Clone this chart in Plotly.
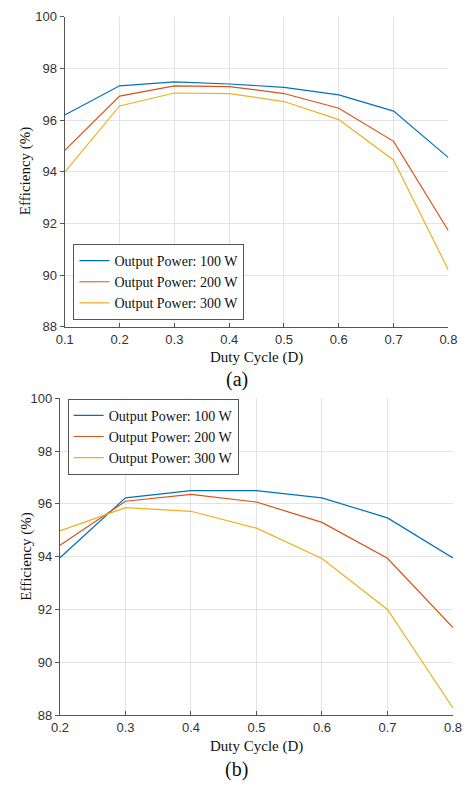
import plotly.graph_objects as go

# ---- data ----
duty_a = [0.1, 0.2, 0.3, 0.4, 0.5, 0.6, 0.7, 0.8]
eff_a_100 = [96.2, 97.33, 97.48, 97.4, 97.27, 96.98, 96.35, 94.55]
eff_a_200 = [94.83, 96.93, 97.33, 97.3, 97.03, 96.46, 95.18, 91.72]
eff_a_300 = [93.99, 96.55, 97.05, 97.03, 96.72, 96.02, 94.45, 90.2]

duty_b = [0.2, 0.3, 0.4, 0.5, 0.6, 0.7, 0.8]
eff_b_100 = [93.96, 96.23, 96.5, 96.5, 96.23, 95.47, 93.95]
eff_b_200 = [94.43, 96.1, 96.36, 96.07, 95.3, 93.94, 91.31]
eff_b_300 = [94.98, 95.86, 95.72, 95.08, 93.93, 92.0, 88.27]

series_names = ["Output Power: 100 W", "Output Power: 200 W", "Output Power: 300 W"]
colors = ["#0072BD", "#D95319", "#EDB120"]
y_ticks = [88, 90, 92, 94, 96, 98, 100]

W, H = 468, 791
fig = go.Figure()

for name, ys, c in zip(series_names, [eff_a_100, eff_a_200, eff_a_300], colors):
    fig.add_trace(go.Scatter(x=duty_a, y=ys, mode="lines", name=name,
                             line=dict(color=c, width=1.2), xaxis="x", yaxis="y",
                             legend="legend"))
for name, ys, c in zip(series_names, [eff_b_100, eff_b_200, eff_b_300], colors):
    fig.add_trace(go.Scatter(x=duty_b, y=ys, mode="lines", name=name,
                             line=dict(color=c, width=1.2), xaxis="x2", yaxis="y2",
                             legend="legend2"))

tickfont = dict(family="Liberation Sans, Arial", size=13, color="#333333")
serif = "Liberation Serif, Times New Roman"
axis_common = dict(showgrid=True, gridcolor="#e3e3e3", gridwidth=1,
                   showline=True, linecolor="#555555", linewidth=1.2,
                   ticklen=4, tickcolor="#555555",
                   tickfont=tickfont, zeroline=False, mirror=False)

fig.update_layout(
    width=W, height=H,
    margin=dict(l=0, r=0, t=0, b=0),
    paper_bgcolor="white", plot_bgcolor="white",
    showlegend=True,
    xaxis=dict(domain=[58 / W, 457 / W], range=[0.1, 0.8], dtick=0.1,
               tickformat=".1f", anchor="y", ticks="inside", **axis_common),
    yaxis=dict(domain=[1 - 326 / H, 1 - 10 / H], range=[88, 100],
               tickvals=y_ticks, anchor="x", ticks="outside", **axis_common),
    xaxis2=dict(domain=[53 / W, 461.7 / W], range=[0.2, 0.8], dtick=0.1,
                tickformat=".1f", anchor="y2", ticks="inside", **axis_common),
    yaxis2=dict(domain=[1 - 721.7 / H, 1 - 398.9 / H], range=[88, 100],
                tickvals=y_ticks, anchor="x2", ticks="outside", **axis_common),
    legend=dict(x=67 / W, y=1 - 319 / H, xanchor="left", yanchor="bottom",
                bgcolor="white", bordercolor="#555555", borderwidth=1,
                font=dict(family=serif, size=14, color="#111111"),
                tracegroupgap=0, itemwidth=30),
    legend2=dict(x=61 / W, y=1 - 438 / H, xanchor="left", yanchor="middle",
                 bgcolor="white", bordercolor="#555555", borderwidth=1,
                 font=dict(family=serif, size=14, color="#111111"),
                 tracegroupgap=0, itemwidth=30),
)

annos = [
    dict(text="Efficiency (%)", x=18 / W, y=1 - 167 / H, textangle=-90),
    dict(text="Duty Cycle (D)", x=257 / W, y=1 - 357 / H),
    dict(text="(a)", x=237 / W, y=1 - 380 / H, size=20),
    dict(text="Efficiency (%)", x=18 / W, y=1 - 560 / H, textangle=-90),
    dict(text="Duty Cycle (D)", x=257 / W, y=1 - 754 / H),
    dict(text="(b)", x=237 / W, y=1 - 777 / H, size=20),
]
for a in annos:
    fig.add_annotation(text=a["text"], x=a["x"], y=a["y"], xref="paper", yref="paper",
                       showarrow=False, textangle=a.get("textangle", 0),
                       xanchor="center", yanchor="middle",
                       font=dict(family=serif, size=a.get("size", 15), color="#111111"))

fig.write_html("out.html")
